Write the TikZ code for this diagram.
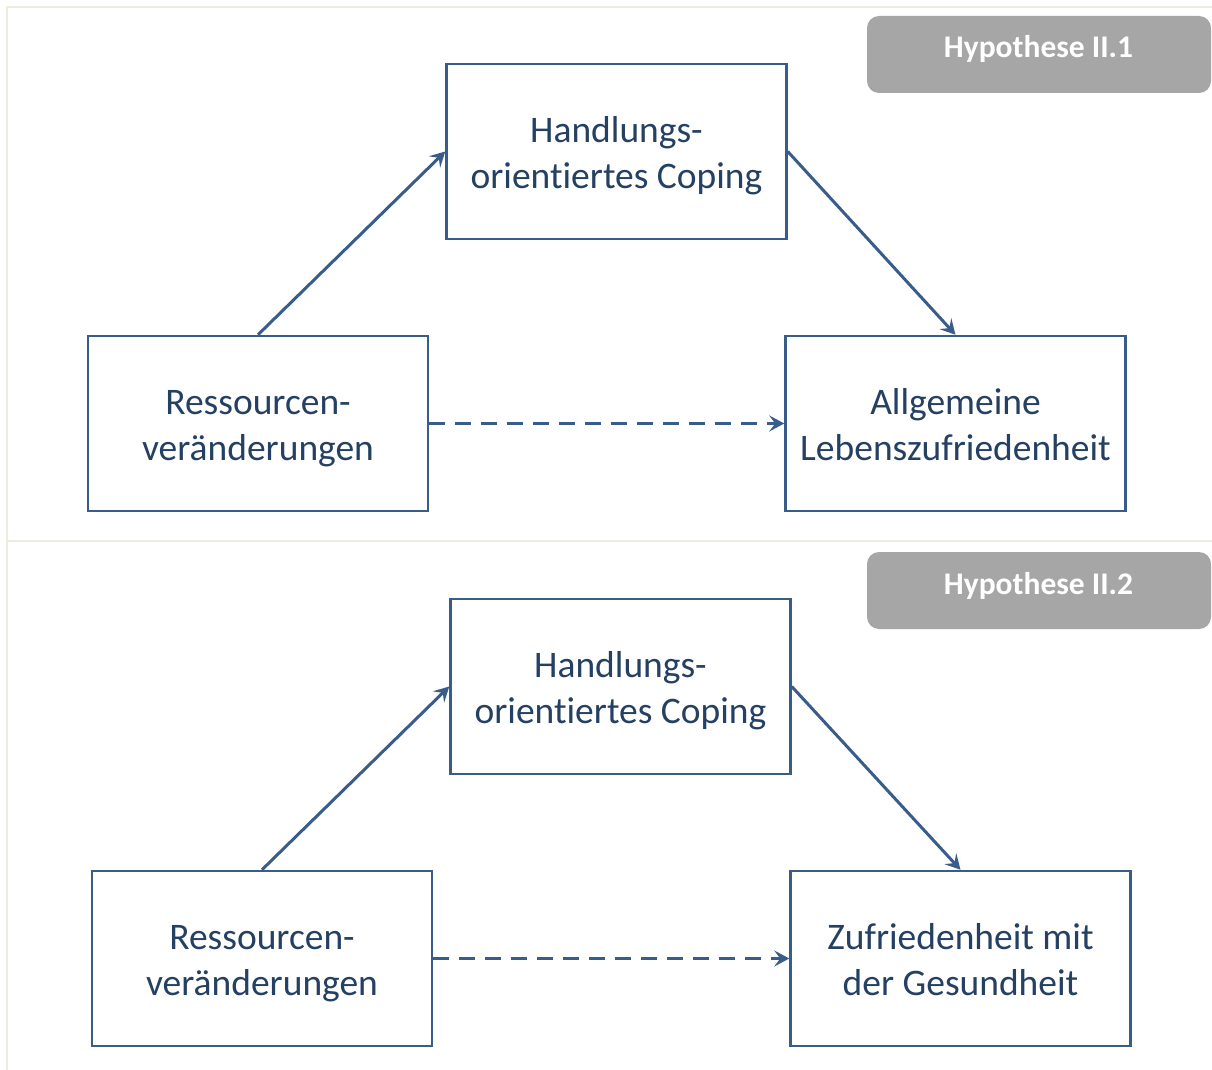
\documentclass[tikz,border=0pt]{standalone}
\usepackage{fontspec}
\setmainfont[Ligatures=NoCommon]{Carlito}
\usetikzlibrary{arrows.meta}
\definecolor{boxline}{RGB}{56,93,138}
\definecolor{boxtext}{RGB}{36,64,98}
\definecolor{frameline}{RGB}{238,236,225}
\definecolor{badgefill}{RGB}{166,166,166}
% two-line label with fixed line boxes so every box centres alike
\newcommand{\twolines}[2]{\rule{0pt}{42pt}#1\\#2\strut}
\begin{document}
\begin{tikzpicture}[x=1pt,y=-1pt,
  varbox/.style={draw=boxline,line width=2.5pt,fill=white,minimum width=340pt,minimum height=175pt,
    inner sep=0pt,align=center,text=boxtext,font=\fontsize{37.5}{46}\selectfont},
  badge/.style={fill=badgefill,rounded corners=12pt,minimum width=344pt,minimum height=77pt,inner sep=0pt},
  badgetext/.style={text=white,font=\fontsize{31.5}{36}\selectfont\bfseries,anchor=base,inner sep=0pt},
  path/.style={draw=boxline,line width=3pt,-{Stealth[length=15pt,width=16pt,inset=6pt]}},
  direct/.style={path,dash pattern=on 16pt off 10pt},
  frame/.style={draw=frameline,line width=2.2pt}]
\useasboundingbox (0,0) rectangle (1212,1070);
\fill[white] (0,0) rectangle (1212,1070);

% panel frame
\draw[frame] (1212,7) -- (7,7) -- (7,1070);
\draw[frame] (7,541) -- (1212,541);

% upper model
\node[badge] (b1) at (1039,54.5) {};
\node[badgetext] (b1t) at (1038.5,58) {Hypothese II.1};
\node[varbox] (h1) at (616.5,151.5) {\twolines{Handlungs-}{orientiertes Coping}};
\node[varbox] (r1) at (258,423.5) {\twolines{Ressourcen-}{veränderungen}};
\node[varbox] (a1) at (955.5,423.5) {\twolines{Allgemeine}{Lebenszufriedenheit}};
\draw[path] (r1.north) -- (h1.west);
\draw[path] (h1.east) -- (a1.north);
\draw[direct] (r1.east) -- (a1.west);

% lower model
\node[badge] (b2) at (1039,590.5) {};
\node[badgetext] (b2t) at (1038.5,594) {Hypothese II.2};
\node[varbox] (h2) at (620.5,686.5) {\twolines{Handlungs-}{orientiertes Coping}};
\node[varbox] (r2) at (262,958.5) {\twolines{Ressourcen-}{veränderungen}};
\node[varbox] (z2) at (960.5,958.5) {\twolines{Zufriedenheit mit}{der Gesundheit}};
\draw[path] (r2.north) -- (h2.west);
\draw[path] (h2.east) -- (z2.north);
\draw[direct] (r2.east) -- (z2.west);
\end{tikzpicture}
\end{document}
